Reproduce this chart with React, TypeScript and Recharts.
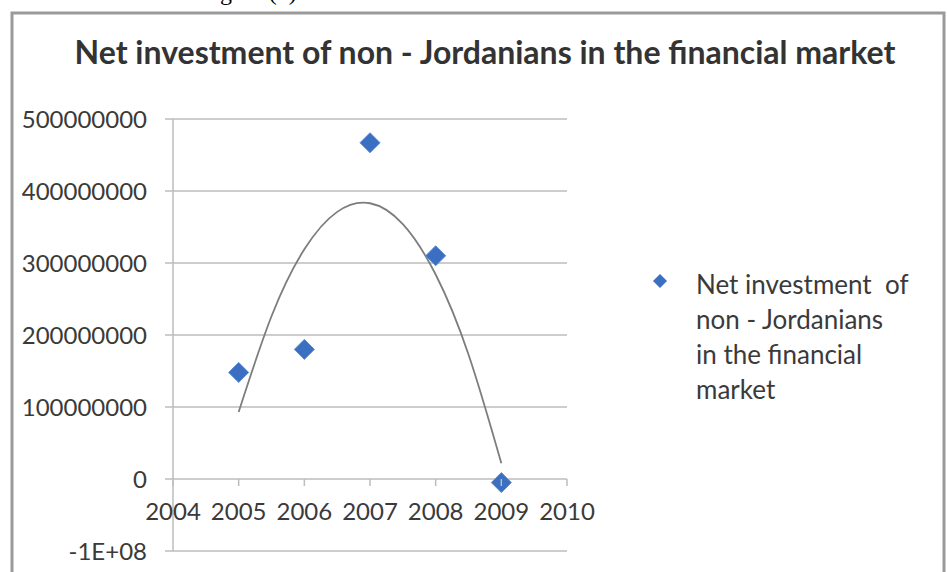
import React from 'react'
import { ComposedChart, Scatter, Line, XAxis, YAxis, CartesianGrid, Legend } from 'recharts'

const seriesName = 'Net investment of non - Jordanians in the financial market'
const legendLines = ['Net investment  of', 'non - Jordanians', 'in the financial', 'market']

const years = [2005, 2006, 2007, 2008, 2009]
const investment = [148000000, 180000000, 467000000, 310000000, -5000000]

// trendline (2nd order polynomial in the original)
const trendYears = [2005, 2005.5, 2006, 2006.5, 2007, 2007.5, 2008, 2008.5, 2009]
const trendValues = [93000000, 226000000, 319000000, 371000000, 383000000, 354000000, 284000000, 173000000, 22000000]

const xTicks = [2004, 2005, 2006, 2007, 2008, 2009, 2010]
const yTicks = [-100000000, 0, 100000000, 200000000, 300000000, 400000000, 500000000]

const pointData = years.map((year, i) => ({ year, value: investment[i] }))
const trendData = trendYears.map((year, i) => ({ year, trend: trendValues[i] }))

const W = 947
const H = 572
const PLOT_LEFT = 173
const PLOT_RIGHT = 567
const PLOT_TOP = 119
const PLOT_BOTTOM = 551
const Y_MIN = -100000000
const Y_MAX = 500000000
const ZERO_Y = PLOT_TOP + ((Y_MAX - 0) / (Y_MAX - Y_MIN)) * (PLOT_BOTTOM - PLOT_TOP)

const FONT = 'Lato, sans-serif'
const BLUE = '#3a6fc1'
const GRID = '#bdbdbd'
const TEXT = '#3a3a3a'

const Diamond = (props: any) => {
  const { cx, cy } = props
  if (cx == null || cy == null) return null
  const r = 10
  return (
    <polygon
      points={`${cx},${cy - r} ${cx + r},${cy} ${cx},${cy + r} ${cx - r},${cy}`}
      fill={BLUE}
      stroke="#5a8ad3"
      strokeWidth={1}
    />
  )
}

// x axis crosses at 0 in the original, so ticks are drawn on the zero line
const YearTick = (props: any) => {
  const { x, payload } = props
  return (
    <g>
      <line x1={x} x2={x} y1={ZERO_Y} y2={ZERO_Y + 7} stroke={GRID} strokeWidth={1.5} />
      <text x={x} y={ZERO_Y + 41} textAnchor="middle" fontFamily={FONT} fontSize={24} fill={TEXT}>
        {payload.value}
      </text>
    </g>
  )
}

const formatY = (v: number) => (v === -100000000 ? '-1E+08' : String(v))

const LegendBox = () => (
  <svg width={300} height={150}>
    <polygon points="20,14 27,21 20,28 13,21" fill={BLUE} />
    {legendLines.map((line, i) => (
      <text key={i} x={56} y={34 + i * 35} fontFamily={FONT} fontSize={26} fill={TEXT} xmlSpace="preserve">
        {line}
      </text>
    ))}
  </svg>
)

export default function App() {
  return (
    <div style={{ position: 'absolute', left: 0, top: 0, width: W, height: H, background: '#fff', overflow: 'hidden' }}>
      <svg width={W} height={H} style={{ position: 'absolute', left: 0, top: 0 }}>
        <text x={200} y={0} fontFamily="'Liberation Serif', serif" fontSize={24} fill="#000">
          Figure (4)
        </text>
        <rect x={12} y={13} width={932} height={600} fill="#fff" stroke="#9a9a9a" strokeWidth={3} />
        <text x={485} y={64} textAnchor="middle" fontFamily={FONT} fontWeight="bold" fontSize={32} fill="#333">
          {seriesName}
        </text>
      </svg>
      <div style={{ position: 'absolute', left: 0, top: 0 }}>
        <ComposedChart width={W} height={H} margin={{ top: PLOT_TOP, right: W - PLOT_RIGHT, bottom: 0, left: 0 }}>
          <CartesianGrid horizontal vertical={false} stroke={GRID} strokeWidth={1.5} />
          <XAxis
            dataKey="year"
            type="number"
            domain={[2004, 2010]}
            ticks={xTicks}
            allowDataOverflow
            height={H - PLOT_BOTTOM}
            axisLine={false}
            tickLine={false}
            tick={<YearTick />}
            interval={0}
          />
          <YAxis
            type="number"
            domain={[Y_MIN, Y_MAX]}
            ticks={yTicks}
            width={PLOT_LEFT}
            interval={0}
            tickFormatter={formatY}
            tickSize={8}
            tickMargin={18}
            axisLine={{ stroke: GRID, strokeWidth: 1.5 }}
            tickLine={{ stroke: GRID, strokeWidth: 1.5 }}
            tick={{ fontFamily: FONT, fontSize: 24, fill: TEXT }}
          />
          <Line
            data={trendData}
            dataKey="trend"
            type="natural"
            stroke="#7d7d7d"
            strokeWidth={1.8}
            dot={false}
            activeDot={false}
            legendType="none"
            isAnimationActive={false}
          />
          <Scatter
            name={seriesName}
            data={pointData}
            dataKey="value"
            fill={BLUE}
            shape={<Diamond />}
            isAnimationActive={false}
          />
          <Legend
            layout="vertical"
            align="center"
            verticalAlign="middle"
            content={<LegendBox />}
            wrapperStyle={{ left: 640, top: 260, width: 300, height: 150 }}
          />
        </ComposedChart>
      </div>
    </div>
  )
}
